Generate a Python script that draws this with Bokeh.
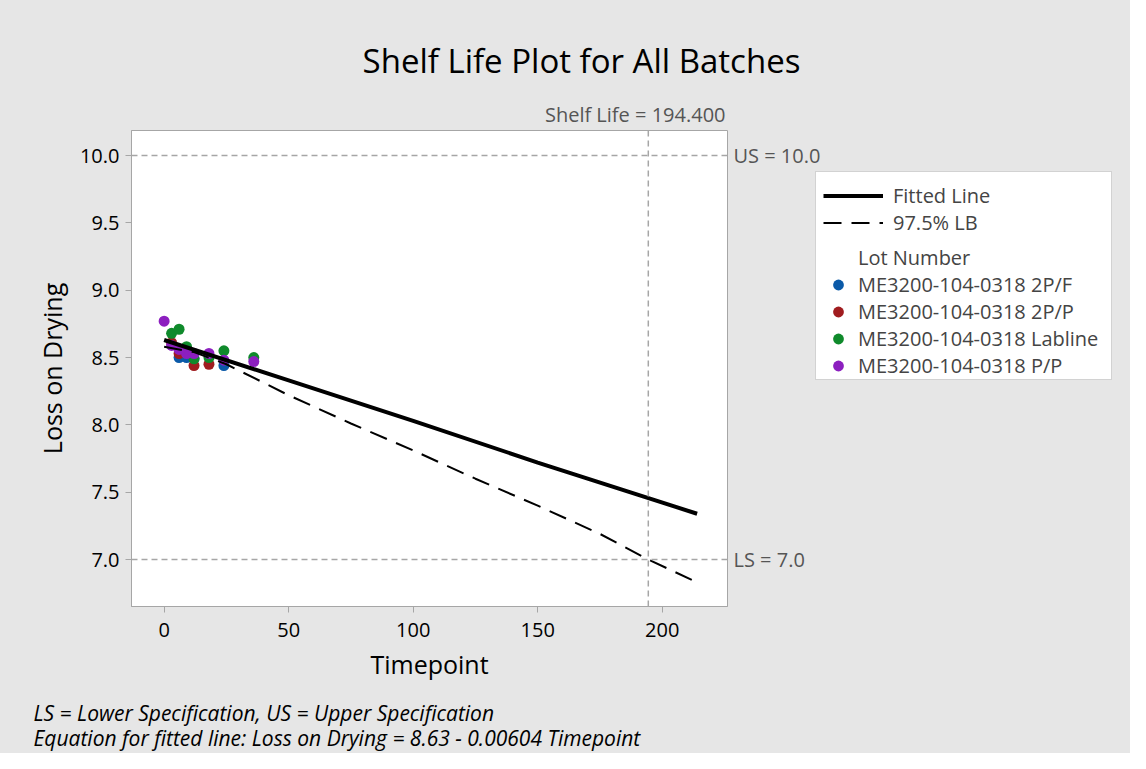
from bokeh.plotting import figure
from bokeh.models import (Range1d, Span, Legend, LegendItem, FixedTicker,
                          NumeralTickFormatter, Label)
from bokeh.layouts import column, row
from bokeh.core.properties import value
from bokeh.embed import file_html
from bokeh.resources import INLINE

# ---------------- data ----------------
lots = ["ME3200-104-0318 2P/F", "ME3200-104-0318 2P/P",
        "ME3200-104-0318 Labline", "ME3200-104-0318 P/P"]
lot_colors = ["#0b5aa8", "#a01c1f", "#0f8a2b", "#8c1fbf"]

t_2pf = [6, 9, 12, 24]
y_2pf = [8.50, 8.50, 8.49, 8.44]
t_2pp = [3, 6, 12, 18]
y_2pp = [8.61, 8.53, 8.44, 8.45]
t_lab = [3, 6, 9, 12, 18, 24, 36]
y_lab = [8.68, 8.71, 8.58, 8.49, 8.50, 8.55, 8.50]
t_pp = [0, 3, 6, 9, 12, 18, 24, 36]
y_pp = [8.77, 8.59, 8.56, 8.53, 8.53, 8.53, 8.48, 8.47]
lot_t = [t_2pf, t_2pp, t_lab, t_pp]
lot_y = [y_2pf, y_2pp, y_lab, y_pp]

fit_t = [0, 50, 100, 150, 214]
fit_y = [8.63, 8.33, 8.03, 7.72, 7.34]
lb_t = [0, 12, 25, 50, 75, 100, 125, 150, 175, 194.4, 214]
lb_y = [8.58, 8.54, 8.45, 8.22, 8.01, 7.81, 7.60, 7.40, 7.19, 7.00, 6.83]

US = 10.0
LS = 7.0
shelf_life = 194.4
spec_values = [US, LS]
spec_texts = ["US = 10.0", "LS = 7.0"]

x_ticks = [0, 50, 100, 150, 200]
y_ticks = [7.0, 7.5, 8.0, 8.5, 9.0, 9.5, 10.0]

title_text = "Shelf Life Plot for All Batches"
shelf_text = "Shelf Life = 194.400"
x_label = "Timepoint"
y_label = "Loss on Drying"
note1 = "LS = Lower Specification, US = Upper Specification"
note2 = "Equation for fitted line: Loss on Drying = 8.63 - 0.00604 Timepoint"

# ---------------- geometry (page pixels) ----------------
PAGE_W = 1130
TOP_H = 128            # title strip
MID_H = 560            # plot strip
BOT_H = 753 - TOP_H - MID_H   # notes strip
FL, FR, FT, FB = 131, 727, 130, 606
MAIN_W = FR + 4

FONT = "Open Sans"
BG = "#e6e6e6"
GRAY = "#a6a6a6"
TXT_GRAY = "#555555"
BG_STYLE = {"background-color": BG}


def strip(w, h, y_top):
    f = figure(width=w, height=h, output_backend="svg", toolbar_location=None,
               x_range=Range1d(0, w), y_range=Range1d(y_top + h, y_top),
               x_axis_type=None, y_axis_type=None, min_border=0)
    f.outline_line_color = None
    f.background_fill_color = BG
    f.border_fill_color = BG
    f.grid.visible = False
    return f


# ---------------- title strip ----------------
top = strip(PAGE_W, TOP_H, 0)
top.add_layout(Label(x=581, y=60, text=title_text, text_font=FONT,
                     text_font_size="33px", text_align="center",
                     text_baseline="middle", text_color="black"))
top.add_layout(Label(x=FR - 2, y=114, text=shelf_text, text_font=FONT,
                     text_font_size="20px", text_align="right",
                     text_baseline="middle", text_color=TXT_GRAY))

# ---------------- main plot ----------------
x0, x1 = -13.1, 226.2
y0, y1 = 6.651, 10.186
p = figure(width=MAIN_W, height=MID_H, output_backend="svg", toolbar_location=None,
           x_range=Range1d(x0, x1), y_range=Range1d(y0, y1),
           min_border_left=FL, min_border_right=MAIN_W - FR,
           min_border_top=FT - TOP_H, min_border_bottom=TOP_H + MID_H - FB)
p.background_fill_color = "white"
p.border_fill_color = BG
p.outline_line_color = GRAY
p.outline_line_width = 1
p.grid.visible = False

for ax in (p.xaxis[0], p.yaxis[0]):
    ax.axis_line_color = GRAY
    ax.major_tick_line_color = GRAY
    ax.major_tick_out = 6
    ax.major_tick_in = 0
    ax.minor_tick_line_color = None
    ax.major_label_text_font = FONT
    ax.major_label_text_font_size = "20px"
    ax.major_label_text_color = "black"
    ax.axis_label_text_font = FONT
    ax.axis_label_text_font_size = "25px"
    ax.axis_label_text_font_style = "normal"
    ax.axis_label_text_color = "black"

p.xaxis.ticker = FixedTicker(ticks=x_ticks)
p.yaxis.ticker = FixedTicker(ticks=y_ticks)
p.yaxis.formatter = NumeralTickFormatter(format="0.0")
p.xaxis.axis_label = x_label
p.yaxis.axis_label = y_label
p.xaxis.major_label_standoff = 10
p.yaxis.major_label_standoff = 6
p.xaxis.axis_label_standoff = 7
p.yaxis.axis_label_standoff = 8

for v in spec_values:
    p.add_layout(Span(location=v, dimension="width", line_color=GRAY,
                      line_dash="6 4", line_width=1.5))
p.add_layout(Span(location=shelf_life, dimension="height", line_color=GRAY,
                  line_dash="6 4", line_width=1.5))

for t, y, c in zip(lot_t, lot_y, lot_colors):
    p.scatter(t, y, size=11, fill_color=c, line_color=None)

FIT_STYLE = dict(line_color="black", line_width=4)
LB_STYLE = dict(line_color="black", line_width=2, line_dash="18 10")
p.line(fit_t, fit_y, **FIT_STYLE)
p.line(lb_t, lb_y, **LB_STYLE)

# ---------------- side strip: spec labels + legend ----------------
SIDE_W = PAGE_W - MAIN_W
side = figure(width=SIDE_W, height=MID_H, output_backend="svg", toolbar_location=None,
              x_range=Range1d(MAIN_W, PAGE_W), y_range=p.y_range,
              x_axis_type=None, y_axis_type=None,
              min_border_left=0, min_border_right=0,
              min_border_top=FT - TOP_H, min_border_bottom=TOP_H + MID_H - FB)
side.outline_line_color = None
side.background_fill_color = BG
side.border_fill_color = BG
side.grid.visible = False

side.text(x=[733] * len(spec_values), y=spec_values, text=spec_texts,
          text_font=value(FONT), text_font_size="20px", text_color=TXT_GRAY,
          text_align="left", text_baseline="middle")

# legend renderers: same series, lying outside this strip's x range (not visible here)
lg_fit = side.line(fit_t, fit_y, **FIT_STYLE)
lg_lb = side.line(lb_t, lb_y, **LB_STYLE)
lg_blank = side.scatter([], [], size=1, alpha=0)
lg_pts = [side.scatter(t, y, size=11, fill_color=c, line_color=None)
          for t, y, c in zip(lot_t, lot_y, lot_colors)]

BOX_L, BOX_R, BOX_T, BOX_B = 815, 1110, 173, 380
ITEM_L = 823


def vx(px):
    return px - MAIN_W


def vy(py):
    return FB - py


box = Legend(items=[LegendItem(label=" ", renderers=[lg_blank])],
             location=(vx(BOX_L), vy(BOX_B)),
             glyph_width=BOX_R - BOX_L, glyph_height=BOX_B - BOX_T,
             label_standoff=0, label_width=0, padding=0, margin=0, spacing=0,
             label_text_font_size="1px", label_text_alpha=0,
             border_line_color=GRAY, border_line_width=1,
             background_fill_color="white", background_fill_alpha=1.0)

ROW = 27
legA = Legend(items=[LegendItem(label="Fitted Line", renderers=[lg_fit]),
                     LegendItem(label="97.5% LB", renderers=[lg_lb])],
              location=(vx(ITEM_L), vy(195 - ROW / 2 + 2 * ROW)),
              glyph_width=60, glyph_height=ROW, label_height=ROW, spacing=0,
              padding=0, margin=0, label_standoff=10,
              label_text_font=FONT, label_text_font_size="20px",
              border_line_alpha=0, background_fill_alpha=0)
legB = Legend(items=[LegendItem(label="Lot Number", renderers=[lg_blank])] +
                    [LegendItem(label=l, renderers=[r]) for l, r in zip(lots, lg_pts)],
              location=(vx(ITEM_L), vy(257 - ROW / 2 + 5 * ROW)),
              glyph_width=30, glyph_height=ROW, label_height=ROW, spacing=0,
              padding=0, margin=0, label_standoff=5,
              label_text_font=FONT, label_text_font_size="20px",
              border_line_alpha=0, background_fill_alpha=0)
side.add_layout(box, "center")
side.add_layout(legA, "center")
side.add_layout(legB, "center")

# ---------------- notes strip ----------------
y_off = TOP_H + MID_H
bot = strip(PAGE_W, BOT_H, y_off)
bot.add_layout(Label(x=33, y=712, text=note1, text_font=FONT, text_font_size="21px",
                     text_font_style="italic", text_align="left",
                     text_baseline="middle", text_color="black"))
bot.add_layout(Label(x=33, y=737, text=note2, text_font=FONT, text_font_size="21px",
                     text_font_style="italic", text_align="left",
                     text_baseline="middle", text_color="black"))

layout = column(top, row(p, side, spacing=0, styles=BG_STYLE), bot,
                spacing=0, styles=BG_STYLE)
open("out.html", "w").write(file_html(layout, INLINE))
